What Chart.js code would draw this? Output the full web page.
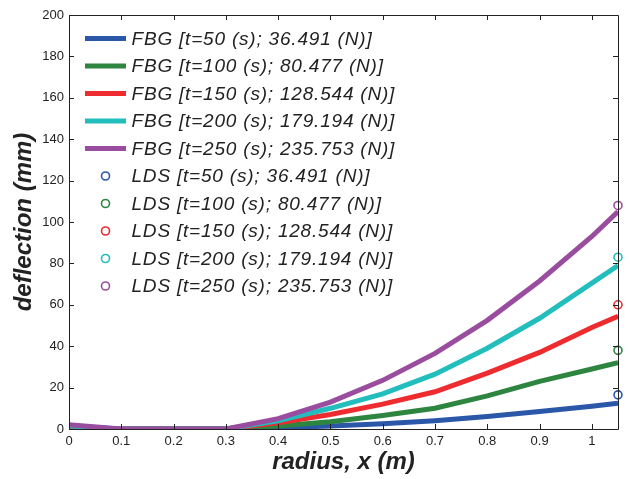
<!DOCTYPE html>
<html>
<head>
<meta charset="utf-8">
<script src="https://cdn.jsdelivr.net/npm/chart.js@4/dist/chart.umd.min.js"></script>
<style>
html,body{margin:0;padding:0;background:#fff;}
#wrap{width:630px;height:479px;position:relative;}
</style>
</head>
<body>
<div id="wrap"><canvas id="c" width="630" height="479"></canvas></div>
<script>
// ---- data ----
const radius = [0, 0.1, 0.2, 0.3, 0.4, 0.5, 0.6, 0.7, 0.8, 0.9, 1.0, 1.05];
const fbg50  = [0.5, 0, 0, 0, 0.5, 1.5, 2.5, 4, 6, 8.5, 11, 12.5];
const fbg100 = [0.8, 0, 0, 0, 1.5, 3.5, 6.5, 10, 16, 23, 29, 32];
const fbg150 = [1, 0, 0, 0, 3, 7, 12, 18, 27, 37, 49, 54.5];
const fbg200 = [1.5, 0, 0, 0, 4, 10, 17, 26.5, 39, 53.5, 70.5, 79];
const fbg250 = [2, 0, 0, 0, 5, 13, 23.5, 36.5, 52.5, 71.5, 93, 105];
const ldsX = 1.05;
const ldsVals = [16.5, 38, 60, 83, 108];
const seriesLabels = [
  'FBG [t=50 (s); 36.491 (N)]',
  'FBG [t=100 (s); 80.477 (N)]',
  'FBG [t=150 (s); 128.544 (N)]',
  'FBG [t=200 (s); 179.194 (N)]',
  'FBG [t=250 (s); 235.753 (N)]',
  'LDS [t=50 (s); 36.491 (N)]',
  'LDS [t=100 (s); 80.477 (N)]',
  'LDS [t=150 (s); 128.544 (N)]',
  'LDS [t=200 (s); 179.194 (N)]',
  'LDS [t=250 (s); 235.753 (N)]'
];
const xTicks = [0, 0.1, 0.2, 0.3, 0.4, 0.5, 0.6, 0.7, 0.8, 0.9, 1];
const yTicks = [0, 20, 40, 60, 80, 100, 120, 140, 160, 180, 200];

const colors = ['#2a57a8', '#2e8540', '#ee2b2e', '#22bdbd', '#9a4d9e'];
const fbgSeries = [fbg50, fbg100, fbg150, fbg200, fbg250];

const datasets = [];
fbgSeries.forEach((s, i) => {
  datasets.push({
    label: seriesLabels[i],
    data: radius.map((x, k) => ({x: x, y: s[k]})),
    borderColor: colors[i],
    backgroundColor: colors[i],
    borderWidth: 5,
    pointRadius: 0,
    tension: 0,
    clip: 0,
    showLine: true,
    order: 5 - i
  });
});
ldsVals.forEach((v, i) => {
  datasets.push({
    label: seriesLabels[5 + i],
    data: [{x: ldsX, y: v}],
    borderColor: colors[i],
    backgroundColor: 'rgba(0,0,0,0)',
    pointStyle: 'circle',
    pointRadius: 4,
    pointBorderWidth: 1.6,
    showLine: false,
    clip: false,
    order: 0
  });
});

const FONT = '"Liberation Sans", Arial, sans-serif';
const AXC = '#222';

const framePlugin = {
  id: 'frame',
  afterDatasetsDraw(chart) {
    const ctx = chart.ctx;
    const a = chart.chartArea;
    const xs = chart.scales.x, ys = chart.scales.y;
    ctx.save();
    ctx.strokeStyle = AXC;
    ctx.lineWidth = 1;
    ctx.beginPath();
    ctx.rect(Math.round(a.left) + 0.5, Math.round(a.top) + 0.5, Math.round(a.right - a.left), Math.round(a.bottom - a.top));
    ctx.stroke();
    const tl = 5;
    ctx.beginPath();
    xTicks.forEach(v => {
      const px = Math.round(xs.getPixelForValue(v)) + 0.5;
      ctx.moveTo(px, a.bottom); ctx.lineTo(px, a.bottom - tl);
      ctx.moveTo(px, a.top); ctx.lineTo(px, a.top + tl);
    });
    yTicks.forEach(v => {
      const py = Math.round(ys.getPixelForValue(v)) + 0.5;
      ctx.moveTo(a.left, py); ctx.lineTo(a.left + tl, py);
      ctx.moveTo(a.right, py); ctx.lineTo(a.right - tl, py);
    });
    ctx.stroke();
    ctx.restore();
  },
  afterDraw(chart) {
    // legend inside plot area, top-left
    const ctx = chart.ctx;
    const a = chart.chartArea;
    ctx.save();
    const x0 = a.left + 16, x1 = a.left + 57, tx = a.left + 62.5;
    const y0 = a.top + 23.5, dy = 27.5;
    ctx.font = 'italic 19px ' + FONT;
    if ('letterSpacing' in ctx) ctx.letterSpacing = '0.8px';
    ctx.textBaseline = 'middle';
    ctx.fillStyle = '#222';
    chart.data.datasets.forEach((ds, i) => {
      const y = y0 + i * dy;
      const col = ds.borderColor;
      if (ds.showLine) {
        ctx.strokeStyle = col;
        ctx.lineWidth = 5;
        ctx.beginPath();
        ctx.moveTo(x0, y); ctx.lineTo(x1, y);
        ctx.stroke();
      } else {
        ctx.strokeStyle = col;
        ctx.lineWidth = 1.6;
        ctx.beginPath();
        ctx.arc((x0 + x1) / 2, y, 4, 0, Math.PI * 2);
        ctx.stroke();
      }
      ctx.fillStyle = '#222';
      ctx.fillText(ds.label, tx, y + 1);
    });
    ctx.restore();
  }
};

new Chart(document.getElementById('c'), {
  type: 'scatter',
  data: { datasets: datasets },
  plugins: [framePlugin],
  options: {
    responsive: false,
    animation: false,
    devicePixelRatio: 1,
    layout: { padding: { top: 15, right: 12, left: 0, bottom: 0 } },
    plugins: { legend: { display: false }, tooltip: { enabled: false } },
    scales: {
      x: {
        type: 'linear',
        min: 0, max: 1.05,
        afterFit(s) { s.height = 50; },
        afterBuildTicks(s) { s.ticks = xTicks.map(v => ({value: v})); },
        grid: { display: false, drawTicks: false },
        border: { display: false },
        ticks: {
          padding: 5,
          color: AXC,
          font: { family: FONT, size: 13 },
          callback: v => String(Math.round(v * 10) / 10)
        },
        title: {
          display: true,
          text: 'radius, x (m)',
          color: '#222',
          font: { family: FONT, size: 24, weight: 'bold', style: 'italic' },
          padding: { top: 0, bottom: 2 }
        }
      },
      y: {
        type: 'linear',
        min: 0, max: 200,
        afterFit(s) { s.width = 69; },
        afterBuildTicks(s) { s.ticks = yTicks.map(v => ({value: v})); },
        grid: { display: false, drawTicks: false },
        border: { display: false },
        ticks: {
          padding: 5,
          color: AXC,
          font: { family: FONT, size: 13 },
          callback: v => String(v)
        },
        title: {
          display: true,
          text: 'deflection (mm)',
          color: '#222',
          font: { family: FONT, size: 24, weight: 'bold', style: 'italic' },
          padding: { top: 10, bottom: 0 }
        }
      }
    }
  }
});
</script>
</body>
</html>
